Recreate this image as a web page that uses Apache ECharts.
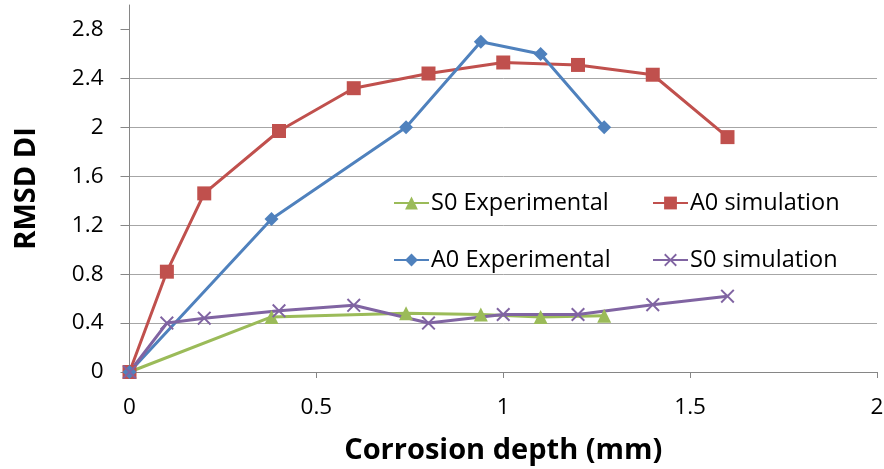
<!DOCTYPE html>
<html>
<head>
<meta charset="utf-8">
<script src="https://cdn.jsdelivr.net/npm/echarts@6/dist/echarts.min.js"></script>
<style>
  html, body { margin: 0; padding: 0; background: #fff; }
  #chart { width: 884px; height: 469px; }
</style>
</head>
<body>
<div id="chart"></div>
<script>
// corrosion depth (mm) for each series
var simDepth = [0, 0.1, 0.2, 0.4, 0.6, 0.8, 1.0, 1.2, 1.4, 1.6];
var expDepth = [0, 0.38, 0.74, 0.94, 1.1, 1.27];

// RMSD DI values
var s0Experimental = [0, 0.45, 0.48, 0.47, 0.45, 0.46];
var a0Simulation = [0, 0.82, 1.46, 1.97, 2.32, 2.44, 2.53, 2.51, 2.43, 1.92];
var a0Experimental = [0, 1.25, 2.0, 2.7, 2.6, 2.0];
var s0Simulation = [0, 0.40, 0.44, 0.50, 0.545, 0.40, 0.47, 0.47, 0.55, 0.62];

var yTicks = [0, 0.4, 0.8, 1.2, 1.6, 2, 2.4, 2.8];

function pairs(xs, ys) {
    return xs.map(function (x, i) { return [x, ys[i]]; });
}

var crossPath = 'path://M0,1L1,0L5,4L9,0L10,1L6,5L10,9L9,10L5,6L1,10L0,9L4,5Z';
var font = 'Open Sans';

let myChart = echarts.init(document.getElementById('chart'), null, { renderer: 'canvas' });

function legendAt(name, left, top) {
    return {
        data: [name],
        left: left,
        top: top,
        itemWidth: 35,
        itemHeight: 16,
        itemGap: 0,
        textStyle: { fontFamily: font, fontSize: 23.5, color: '#000', padding: [0, 0, 0, -3] }
    };
}

let option = {
    animation: false,
    grid: {
        left: 129.5,
        right: 7,
        top: 5,
        bottom: 97,
        outerBoundsMode: 'none'
    },
    legend: [
        legendAt('S0 Experimental', 388, 186),
        legendAt('A0 simulation', 647, 186),
        legendAt('A0 Experimental', 388, 243),
        legendAt('S0 simulation', 647, 243)
    ],
    xAxis: {
        type: 'value',
        min: 0,
        max: 2,
        interval: 0.5,
        name: 'Corrosion depth (mm)',
        nameLocation: 'middle',
        nameGap: 64,
        nameTextStyle: { fontFamily: font, fontSize: 29, fontWeight: 'bold', color: '#000' },
        axisLine: { lineStyle: { color: '#868686', width: 1 } },
        axisTick: { show: true, length: 6, inside: false, lineStyle: { color: '#868686' } },
        axisLabel: { fontFamily: font, fontSize: 22.5, color: '#000', margin: 24 },
        splitLine: { show: false }
    },
    yAxis: {
        type: 'value',
        min: 0,
        max: 3,
        interval: 0.4,
        name: 'RMSD DI',
        nameLocation: 'middle',
        nameGap: 88,
        nameTextStyle: { fontFamily: font, fontSize: 29, fontWeight: 'bold', color: '#000' },
        axisLine: { show: true, lineStyle: { color: '#868686', width: 1 } },
        axisTick: { show: true, length: 9, customValues: yTicks, lineStyle: { color: '#868686' } },
        axisLabel: { fontFamily: font, fontSize: 22.5, color: '#000', margin: 26, customValues: yTicks },
        splitLine: { show: true, showMaxLine: false, lineStyle: { color: '#a6a6a6', width: 1 } }
    },
    series: [
        {
            name: 'S0 Experimental',
            type: 'line',
            data: pairs(expDepth, s0Experimental),
            symbol: 'triangle',
            symbolSize: 14,
            color: '#9BBB59',
            lineStyle: { width: 3 }
        },
        {
            name: 'A0 simulation',
            type: 'line',
            data: pairs(simDepth, a0Simulation),
            symbol: 'rect',
            symbolSize: 14,
            color: '#C0504D',
            lineStyle: { width: 3 }
        },
        {
            name: 'A0 Experimental',
            type: 'line',
            data: pairs(expDepth, a0Experimental),
            symbol: 'diamond',
            symbolSize: 14,
            color: '#4F81BD',
            lineStyle: { width: 3 }
        },
        {
            name: 'S0 simulation',
            type: 'line',
            data: pairs(simDepth, s0Simulation),
            symbol: crossPath,
            symbolSize: 14,
            color: '#8064A2',
            lineStyle: { width: 3 }
        }
    ]
};
myChart.setOption(option);
</script>
</body>
</html>
